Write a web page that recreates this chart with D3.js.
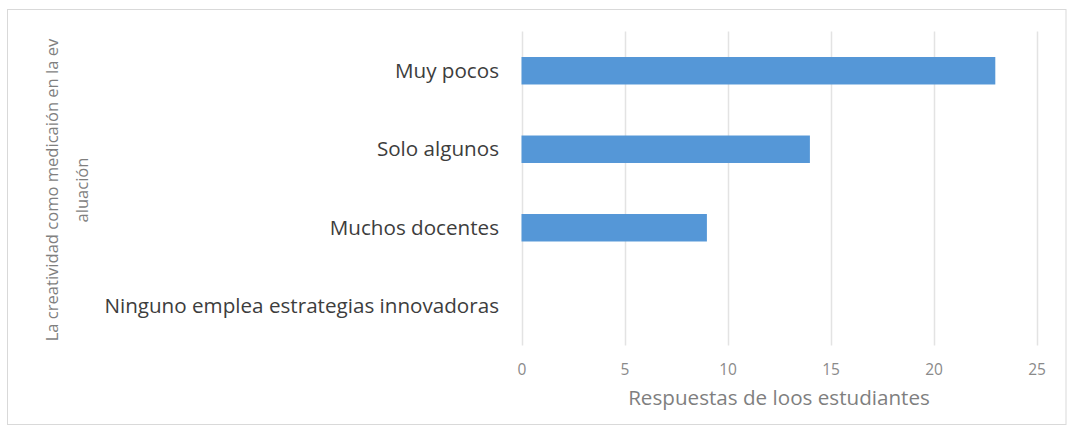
<!DOCTYPE html>
<html>
<head>
<meta charset="utf-8">
<script src="https://cdn.jsdelivr.net/npm/d3@7"></script>
<style>
  html, body { margin: 0; padding: 0; background: #ffffff; }
  svg { display: block; }
  text { font-family: "Open Sans", "Noto Sans", sans-serif; }
</style>
</head>
<body>
<svg id="chart" width="1067" height="427"></svg>
<script>
// Categories, top to bottom
const categories = [
  "Muy pocos",
  "Solo algunos",
  "Muchos docentes",
  "Ninguno emplea estrategias innovadoras"
];
// Number of student answers per category
const values = [23, 14, 9, 0];
// X axis tick labels
const xTicks = [0, 5, 10, 15, 20, 25];
const xTitle = "Respuestas de loos estudiantes";
const yTitleLines = ["La creatividad como medicaión en la ev", "aluación"];

const svg = d3.select("#chart");
const W = 1067, H = 427;

// chart frame
svg.append("rect")
  .attr("x", 7.5).attr("y", 9.5)
  .attr("width", W - 8.5).attr("height", 415)
  .attr("fill", "#ffffff")
  .attr("stroke", "#d9d9d9").attr("stroke-width", 1);

const plot = { left: 521.5, right: 1036.5, top: 31.5, bottom: 345.5 };

const x = d3.scaleLinear().domain([0, 25]).range([plot.left, plot.right]);
const y = d3.scaleBand()
  .domain(categories)
  .range([plot.top, plot.bottom])
  .paddingInner(0.65)
  .paddingOuter(0.325);

// vertical gridlines
svg.append("g")
  .selectAll("line")
  .data(xTicks)
  .join("line")
  .attr("x1", d => Math.round(x(d)) + 0.5)
  .attr("x2", d => Math.round(x(d)) + 0.5)
  .attr("y1", plot.top)
  .attr("y2", plot.bottom)
  .attr("stroke", "#e3e3e3")
  .attr("stroke-width", 1.5);

// bars
svg.append("g")
  .selectAll("rect")
  .data(categories.map((c, i) => ({ c, v: values[i] })))
  .join("rect")
  .attr("x", x(0))
  .attr("y", d => y(d.c))
  .attr("width", d => x(d.v) - x(0))
  .attr("height", y.bandwidth())
  .attr("fill", "#5597d7");

// x axis tick labels
const xAxis = d3.axisBottom(x).tickValues(xTicks).tickSize(0).tickPadding(0);
const gx = svg.append("g")
  .attr("transform", `translate(0, ${plot.bottom})`)
  .call(xAxis);
gx.select(".domain").remove();
gx.selectAll("text")
  .attr("y", 0)
  .attr("dy", null)
  .attr("transform", "translate(0, 29)")
  .attr("font-family", "Open Sans, sans-serif")
  .attr("font-size", 15.5)
  .attr("fill", "#8a8a8a");

// category labels
const yAxis = d3.axisLeft(y).tickSize(0).tickPadding(0);
const gy = svg.append("g")
  .attr("transform", `translate(${499}, 0)`)
  .call(yAxis);
gy.select(".domain").remove();
gy.selectAll("text")
  .attr("x", 0)
  .attr("dy", "0.35em")
  .attr("font-family", "Open Sans, sans-serif")
  .attr("font-size", 17)
  .attr("fill", "#3d3d3d");

// scale a text group so its widest item spans the given width
function fitWidth(sel, target) {
  let maxW = 0;
  sel.each(function () { maxW = Math.max(maxW, this.getComputedTextLength()); });
  const fs = parseFloat(sel.attr("font-size"));
  if (maxW > 0) sel.attr("font-size", fs * target / maxW);
}
fitWidth(gy.selectAll("text"), 395);

// x axis title
const xt = svg.append("text")
  .attr("x", (plot.left + plot.right) / 2)
  .attr("y", 398)
  .attr("dy", "0.35em")
  .attr("text-anchor", "middle")
  .attr("font-size", 15)
  .attr("fill", "#7f7f7f")
  .text(xTitle);
fitWidth(xt, 302);

// y axis title (two lines, rotated)
const yt = svg.append("g")
  .attr("transform", "translate(0, 190) rotate(-90)");
const ytText = yt.selectAll("text")
  .data(yTitleLines)
  .join("text")
  .attr("x", 0)
  .attr("y", (d, i) => [52, 82][i])
  .attr("dy", "0.35em")
  .attr("text-anchor", "middle")
  .attr("font-size", 15)
  .attr("fill", "#7f7f7f")
  .text(d => d);
fitWidth(ytText, 303);
</script>
</body>
</html>
